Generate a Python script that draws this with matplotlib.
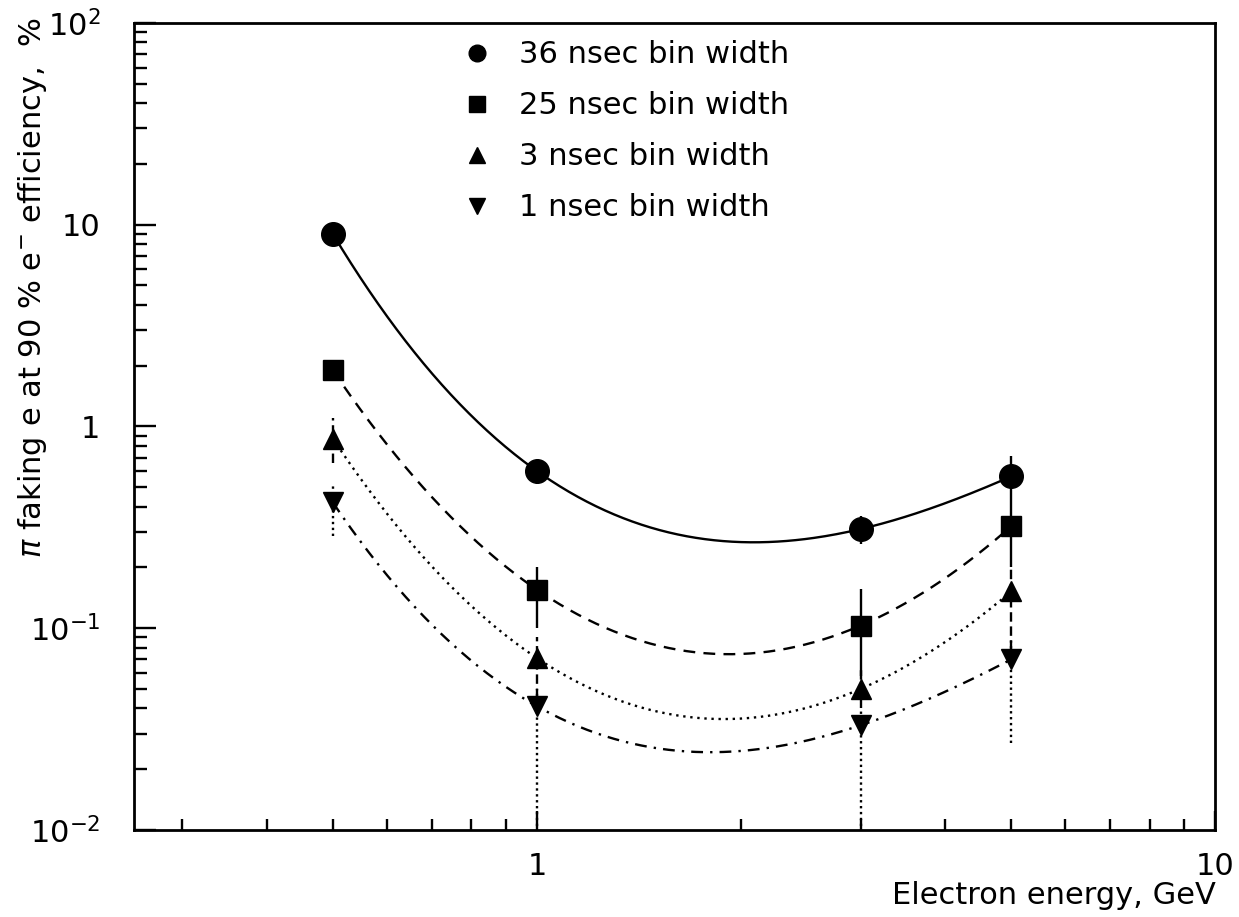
import numpy as np
import matplotlib
matplotlib.use("Agg")
import matplotlib.pyplot as plt
from matplotlib.lines import Line2D
from matplotlib.ticker import FixedLocator, NullFormatter

# electron energy (GeV) at which the rejection was measured
energy = [0.5, 1.0, 3.0, 5.0]

# pion fake rate (%) for each bin width, with error bar ends
labels = ["36 nsec bin width", "25 nsec bin width",
          "3 nsec bin width", "1 nsec bin width"]
rate_36 = [9.0, 0.60, 0.31, 0.565]
rate_25 = [1.9, 0.155, 0.103, 0.32]
rate_3 = [0.87, 0.071, 0.050, 0.152]
rate_1 = [0.42, 0.041, 0.033, 0.070]

low_36 = [9.0, 0.52, 0.26, 0.45]
high_36 = [9.0, 0.66, 0.36, 0.71]
low_25 = [1.9, 0.10, 0.058, 0.20]
high_25 = [1.9, 0.20, 0.156, 0.45]
low_3 = [0.66, 0.045, 0.040, 0.078]
high_3 = [1.10, 0.09, 0.062, 0.196]
low_1 = [0.285, 0.005, 0.005, 0.027]
high_1 = [0.52, 0.05, 0.040, 0.09]

series = [
    (rate_36, low_36, high_36, "o", 17, "-", "-"),
    (rate_25, low_25, high_25, "s", 15, (0, (5, 3.5)), "-"),
    (rate_3, low_3, high_3, "^", 15, (0, (1, 2)), (0, (4, 2))),
    (rate_1, low_1, high_1, "v", 15, (0, (5, 3, 1, 3)), (0, (1, 1.5))),
]

plt.rcParams["font.family"] = "DejaVu Sans"
plt.rcParams["mathtext.fontset"] = "dejavusans"

fig = plt.figure(figsize=(12.39, 9.17), dpi=100)
ax = fig.add_axes([0.108, 0.095, 0.873, 0.880])

lx = np.log10(energy)
xs = np.logspace(np.log10(energy[0]), np.log10(energy[-1]), 300)
for vals, lo, hi, mk, ms, ls, els in series:
    # smooth curve: cubic through the points in log-log space
    coef = np.polyfit(lx, np.log10(vals), 3)
    ax.plot(xs, 10 ** np.polyval(coef, np.log10(xs)), color="black",
            lw=1.7, ls=ls)
    ax.vlines(energy, lo, hi, colors="black", lw=1.7, linestyles=[els])
    ax.plot(energy, vals, ls="none", marker=mk, ms=ms, color="black")

ax.set_xscale("log")
ax.set_yscale("log")
ax.set_xlim(0.2545, 10)
ax.set_ylim(0.01, 100)

ax.xaxis.set_major_locator(FixedLocator([1, 10]))
ax.xaxis.set_minor_locator(FixedLocator([0.3, 0.4, 0.5, 0.6, 0.7, 0.8, 0.9,
                                         2, 3, 4, 5, 6, 7, 8, 9]))
ax.set_xticklabels(["1", "10"])
ax.xaxis.set_minor_formatter(NullFormatter())

ax.yaxis.set_major_locator(FixedLocator([0.01, 0.1, 1, 10, 100]))
ax.yaxis.set_minor_locator(FixedLocator(
    [m * 10.0 ** e for e in range(-2, 2) for m in range(2, 10)]))
ax.set_yticklabels([r"$10^{-2}$", r"$10^{-1}$", "1", "10", r"$10^{2}$"])
ax.yaxis.set_minor_formatter(NullFormatter())

ax.tick_params(which="both", direction="in", top=False, right=False,
               labelsize=22, width=1.7)
ax.tick_params(axis="y", which="major", length=16, pad=24)
ax.tick_params(axis="y", which="minor", length=9)
ax.tick_params(axis="x", which="major", length=14, pad=16)
ax.tick_params(axis="x", which="minor", length=8)
for sp in ax.spines.values():
    sp.set_linewidth(2.0)

ax.set_xlabel("Electron energy, GeV", fontsize=22, loc="right", labelpad=0)
fig.text(0.026, 0.686, r"$\pi$ faking e at 90 % e$^{-}$ efficiency,  %",
         rotation=90, ha="center", va="center", fontsize=22)

handles = [Line2D([], [], ls="none", marker=s[3], ms=12, color="black")
           for s in series]
ax.legend(handles, labels, loc="upper left", bbox_to_anchor=(0.283, 1.005),
          frameon=False, fontsize=22, labelspacing=0.72, handletextpad=0.9,
          handlelength=1.0, borderaxespad=0.3)

fig.savefig("out.png", dpi=100)
